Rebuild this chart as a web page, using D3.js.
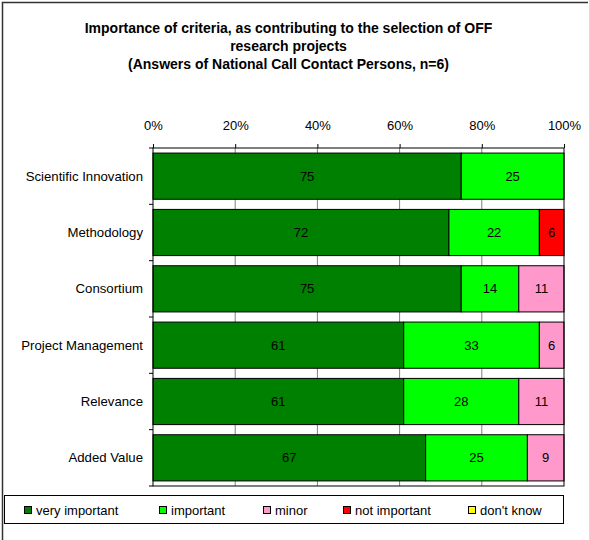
<!DOCTYPE html>
<html><head><meta charset="utf-8">
<script src="https://cdn.jsdelivr.net/npm/d3@7"></script>
<style>body{margin:0;background:#fff}</style></head>
<body><svg id="c" width="590" height="540"></svg>
<script>
const titleLines = ["Importance of criteria, as contributing to the selection of OFF","research projects","(Answers of National Call Contact Persons, n=6)"];
const categories = ["Scientific Innovation","Methodology","Consortium","Project Management","Relevance","Added Value"];
const veryImportant = [75,72,75,61,61,67];
const important = [25,22,14,33,28,25];
const minor = [0,0,11,6,11,9];
const notImportant = [0,6,0,0,0,0];
const dontKnow = [0,0,0,0,0,0];
const seriesNames = ["very important","important","minor","not important","don't know"];
const seriesColors = ["#008000","#00FF00","#FF99CC","#FF0000","#FFFF00"];
const tickValues = [0,0.2,0.4,0.6,0.8,1];

const seriesValues = [veryImportant, important, minor, notImportant, dontKnow];
const rows = categories.map((c,i)=>{const o={cat:c};seriesNames.forEach((s,j)=>o[s]=seriesValues[j][i]);return o;});
const stacked = d3.stack().keys(seriesNames).offset(d3.stackOffsetExpand)(rows);

const svg = d3.select("#c");
const font = "'Liberation Sans', Arial, sans-serif";
svg.append("rect").attr("width",590).attr("height",540).attr("fill","#fff");
// outer frame
svg.append("path").attr("d","M2.5,540V2.5H588").attr("fill","none").attr("stroke","#333").attr("stroke-width",1.5);
svg.append("line").attr("x1",589.5).attr("x2",589.5).attr("y1",0).attr("y2",540).attr("stroke","#ddd");

const title = svg.append("text").attr("font-family",font).attr("font-size",14).attr("font-weight","bold").attr("text-anchor","middle").attr("fill","#000");
titleLines.forEach((t,i)=>title.append("tspan").attr("x",288.5).attr("y",33+i*18).text(t));

const m = {l:153, r:564, t:148, b:486};
const x = d3.scaleLinear().domain([0,1]).range([m.l,m.r]);
const y = d3.scaleBand().domain(categories).range([m.t,m.b]).paddingInner(0.18).paddingOuter(0.09);

// gridlines
svg.append("g").selectAll("line").data(tickValues.slice(1,-1)).join("line")
  .attr("x1",d=>x(d)).attr("x2",d=>x(d)).attr("y1",m.t).attr("y2",m.b).attr("stroke","#808080").attr("stroke-width",1);

// bars
const g = svg.append("g");
stacked.forEach((s,j)=>{
  g.append("g").selectAll("rect").data(s.filter(d=>d[1]-d[0]>0)).join("rect")
    .attr("x",d=>x(d[0])).attr("width",d=>x(d[1])-x(d[0]))
    .attr("y",d=>y(d.data.cat)).attr("height",y.bandwidth())
    .attr("fill",seriesColors[j]).attr("stroke","#000").attr("stroke-width",1);
});
stacked.forEach((s,j)=>{
  g.append("g").selectAll("text").data(s.filter(d=>d[1]-d[0]>0)).join("text")
    .attr("x",d=>(x(d[0])+x(d[1]))/2).attr("y",d=>y(d.data.cat)+y.bandwidth()/2+4.5)
    .attr("text-anchor","middle").attr("font-family",font).attr("font-size",13).attr("fill","#000")
    .text(d=>d.data[s.key]);
});

// plot border
svg.append("rect").attr("x",m.l).attr("y",m.t).attr("width",m.r-m.l).attr("height",m.b-m.t).attr("fill","none").attr("stroke","#000").attr("stroke-width",1);

// top axis
const xa = svg.append("g").attr("transform",`translate(0,${m.t})`)
  .call(d3.axisTop(x).tickValues(tickValues).tickFormat(d3.format(".0%")).tickSize(4).tickSizeOuter(0).tickPadding(14));
xa.select(".domain").remove();
xa.selectAll("text").attr("font-family",font).attr("font-size",13).attr("fill","#000");
xa.selectAll("line").attr("stroke","#000");

// left axis
const bounds = d3.range(categories.length+1).map(i=>m.t+(m.b-m.t)*i/categories.length);
svg.append("g").selectAll("line").data(bounds).join("line")
  .attr("x1",m.l-4).attr("x2",m.l).attr("y1",d=>d).attr("y2",d=>d).attr("stroke","#000");
svg.append("g").selectAll("text").data(categories).join("text")
  .attr("x",m.l-10).attr("y",d=>y(d)+y.bandwidth()/2+4.5).attr("text-anchor","end")
  .attr("font-family",font).attr("font-size",13.2).attr("fill","#000").text(d=>d);

// legend
svg.append("rect").attr("x",4.5).attr("y",495.5).attr("width",559).attr("height",28).attr("fill","#fff").attr("stroke","#000").attr("stroke-width",1);
const legX = [24,159,263,343,468];
const lg = svg.append("g").selectAll("g").data(seriesNames).join("g").attr("transform",(d,i)=>`translate(${legX[i]},506)`);
lg.append("rect").attr("x",0.5).attr("y",0.5).attr("width",7).attr("height",7).attr("fill",(d,i)=>seriesColors[i]).attr("stroke","#000");
lg.append("text").attr("x",12).attr("y",8.5).attr("font-family",font).attr("font-size",13).attr("fill","#000").text(d=>d);
</script></body></html>
